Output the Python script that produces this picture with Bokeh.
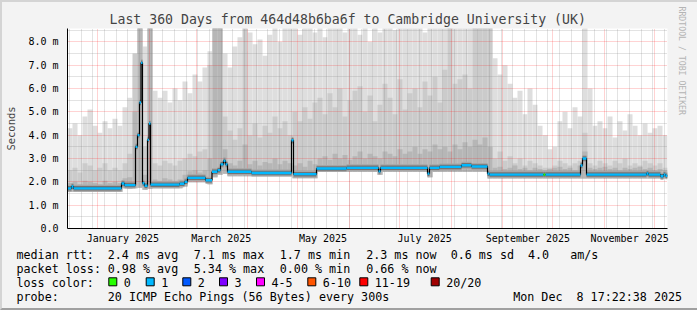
from datetime import datetime, timedelta
from bokeh.plotting import figure
from bokeh.models import Range1d, FixedTicker, Title
from bokeh.layouts import column
from bokeh.embed import file_html
from bokeh.resources import INLINE
from bokeh.core.properties import value

# ---------------- data ----------------
END_TIME = datetime(2025, 12, 8, 17, 22, 38)
SPAN_DAYS = 360
START_TIME = END_TIME - timedelta(days=SPAN_DAYS)

BIN_DAYS = 3  # width of one smoke column (days)

# outer smoke (max ping) per 3-day column, ms
smoke_max = [4.3, 4.5, 4.0, 4.8, 5.1, 4.4, 4.1, 4.6, 4.3, 4.7, 4.4, 5.2, 5.6,
             7.0, 9.0, 7.8, 9.0,
             5.9, 5.6, 5.9, 5.4, 6.0, 5.5, 6.3, 5.8, 6.6, 6.3, 6.9, 7.6,
             9.0, 9.0, 7.5, 6.9, 7.8, 8.2, 7.6, 8.4, 7.9, 8.1, 7.4, 8.3, 9.0, 8.0, 9.0,
             8.6, 9.0, 8.3, 8.6, 9.0, 8.4, 9.0, 8.2, 9.0, 8.7, 9.0, 8.4, 9.0, 9.0, 8.3,
             9.0, 8.0, 9.0, 8.4, 9.0, 9.0, 8.5, 9.0, 9.0, 8.7, 9.0, 9.0, 8.4, 9.0, 9.0,
             9.0, 8.6, 9.0, 9.0, 9.0, 8.8, 9.0, 9.0, 9.0, 9.0, 9.0,
             7.3, 6.6, 7.0, 6.2, 5.6, 5.9, 4.9, 6.0, 5.3, 4.4, 4.0, 3.4, 3.5, 4.6, 5.0,
             4.3, 5.2, 4.8, 9.0, 6.0, 4.4, 4.6, 4.3, 4.8, 3.9, 4.6, 4.2, 4.9, 4.4, 4.0,
             4.5, 4.1, 4.3, 4.4, 4.0]

# middle smoke band top per column, ms
smoke_mid = [2.5, 2.6, 2.4, 2.8, 2.7, 2.5, 2.6, 2.8, 2.5, 2.6, 2.5,
             2.8, 3.2,
             7.5, 9.0, 3.5, 9.0,
             2.8, 2.7, 2.9, 2.8, 2.7, 2.9, 3.0, 3.2, 3.1, 3.3, 3.4,
             7.0, 9.0, 9.0, 4.8,
             4.2, 3.8, 4.3, 9.0, 4.0, 4.5, 3.9, 4.4, 4.1, 4.8, 4.3, 4.6, 4.0,
             5.0, 4.6, 5.2, 4.7, 5.4,
             5.6, 4.9, 5.8, 5.2, 6.0, 4.8, 5.5, 5.9, 6.1, 5.0, 5.7, 4.6, 5.3, 6.2, 5.6,
             4.9, 6.4, 5.1, 5.8, 6.0, 5.2, 6.3, 5.7, 6.5, 5.4, 6.8, 9.0, 6.2, 6.4, 6.6,
             6.0, 9.0, 9.0, 9.0, 9.0,
             3.0, 3.3, 2.9, 3.1, 2.8, 3.0, 2.7, 2.9, 2.8, 2.7, 2.6, 2.6, 2.7, 2.9, 2.8,
             2.7, 2.8, 2.9, 4.1, 2.8, 2.7, 2.9, 2.8, 2.7, 2.9, 2.8, 3.0, 2.7, 2.8, 2.7,
             2.9, 2.8, 2.7, 2.8, 2.6]

# inner smoke band top per column, ms
smoke_inner = [1.95, 2.0, 1.9, 2.05, 2.0, 1.95, 1.9, 2.05, 1.95, 2.0, 1.95,
               2.15, 2.2,
               5.0, 9.0, 2.3, 9.0,
               2.1, 2.05, 2.15, 2.1, 2.05, 2.1,
               2.3,
               2.45, 2.5, 2.4, 2.5,
               3.0,
               9.0, 9.0,
               3.4,
               2.8, 2.7, 2.9, 3.6, 2.75, 2.9, 2.7, 2.85, 2.8, 3.0, 2.75, 2.9, 2.8,
               2.7, 2.8, 2.65, 2.9, 2.75,
               3.0, 3.1, 2.95, 3.2, 3.0, 3.15, 2.95, 3.1, 3.3, 3.0, 3.2, 3.1, 3.0, 3.3, 3.2,
               3.1, 3.4, 3.2, 3.3, 3.5, 3.2, 3.4, 3.3, 3.6, 3.4, 3.5, 3.3, 3.6, 3.4, 3.7,
               3.5, 3.8, 3.6, 3.9, 3.5,
               2.6, 2.65, 2.55, 2.6, 2.7, 2.55, 2.6, 2.5, 2.6, 2.55, 2.5, 2.55, 2.6, 2.65, 2.55,
               2.6, 2.5, 2.7, 3.3, 2.6, 2.55, 2.6, 2.65, 2.55, 2.6, 2.5, 2.6, 2.55, 2.6, 2.65,
               2.55, 2.6, 2.5, 2.55, 2.5]

# smoke bottom (min ping) per column, ms
smoke_min = ([1.57] * 11 + [1.72, 1.70, 1.72, 1.75, 1.66, 1.70] + [1.72] * 6 + [1.80]
             + [1.98] * 4 + [1.90, 2.20, 2.30, 2.35] + [2.24] * 13 + [2.15] * 5
             + [2.42] * 12 + [2.30] + [2.42] * 9 + [2.20] + [2.42] * 11 + [2.14] * 36)

# median rtt: step changes (day since start, ms, loss class index)
median_day = [0.0, 2.4, 3.6, 32.4, 34.2, 40.8, 42.0, 43.2, 44.1, 45.0, 46.2, 48.0, 48.9,
              49.8, 67.2, 70.2, 72.0, 82.8, 86.7, 90.0, 91.8, 93.6, 94.8, 96.0, 110.4,
              134.4, 135.6, 149.4, 167.4, 186.6, 187.8, 216.0, 217.2, 223.2, 236.4, 242.4,
              252.0, 253.2, 285.6, 286.8, 307.8, 309.0, 311.4, 347.4, 348.6, 355.8, 357.6,
              358.8]
median_ms = [1.72, 1.80, 1.72, 1.93, 1.86, 3.5, 4.0, 5.4, 7.1, 1.94, 1.83, 3.8, 4.5,
             1.88, 1.92, 2.0, 2.17, 2.07, 2.43, 2.5, 2.75, 2.9, 2.75, 2.43, 2.38,
             3.78, 2.33, 2.57, 2.6, 2.45, 2.6, 2.35, 2.6, 2.64, 2.71, 2.66,
             2.35, 2.31, 2.31, 2.31, 2.7, 3.0, 2.31, 2.36, 2.31, 2.24, 2.31,
             2.26]
median_loss = [1] * 38 + [0] + [1] * 9

loss_labels = ["0", "1", "2", "3", "4-5", "6-10", "11-19", "20/20"]
loss_colors = ["#26ff00", "#00b8ff", "#0059ff", "#7e00ff", "#ff00ff", "#ff5500", "#ff0000", "#a00000"]

y_ticks = [0, 1, 2, 3, 4, 5, 6, 7, 8]
y_tick_labels = ["0.0", "1.0 m", "2.0 m", "3.0 m", "4.0 m", "5.0 m", "6.0 m", "7.0 m", "8.0 m"]
y_minor = [0.5, 1.5, 2.5, 3.5, 4.5, 5.5, 6.5, 7.5, 8.5]
x_label_months = [(2025, 1), (2025, 3), (2025, 5), (2025, 7), (2025, 9), (2025, 11)]
x_labels = ["January 2025", "March 2025", "May 2025", "July 2025", "September 2025", "November 2025"]

title_text = "Last 360 Days from 464d48b6ba6f to Cambridge University (UK)"
stat_rows = [
    ["median rtt:", "2.4 ms avg", "7.1 ms max", "1.7 ms min", "2.3 ms now  0.6 ms sd  4.0   am/s"],
    ["packet loss:", "0.98 % avg", "5.34 % max", "0.00 % min", "0.66 % now"],
]
probe_text = ["probe:", "20 ICMP Echo Pings (56 Bytes) every 300s", "Mon Dec  8 17:22:38 2025"]

# ---------------- helpers ----------------
def day_of(dt):
    return (dt - START_TIME).total_seconds() / 86400.0

def keep_spaces(s):
    return s.replace(" ", "\u00a0")

month_starts = [day_of(datetime(2025, m, 1)) for m in range(1, 13)]
sundays = []
d = datetime(2024, 12, 15)
while d < END_TIME:
    sundays.append(day_of(d))
    d += timedelta(days=7)
x_label_pos = [day_of(datetime(y, m, 1) + timedelta(days=15)) for (y, m) in x_label_months]

BG = "#f3f3f3"
MONO = "DejaVu Sans Mono"
Y_TOP = 200 / 23.333

# ---------------- main chart ----------------
p = figure(frame_width=600, frame_height=200,
           x_range=Range1d(0, SPAN_DAYS), y_range=Range1d(0, Y_TOP),
           output_backend="svg", toolbar_location=None,
           min_border_left=64, min_border_right=29, min_border_top=26, min_border_bottom=18,
           background_fill_color="white", border_fill_color=BG, outline_line_color=None)
p.frame_align = False

p.title.text = title_text
p.title.text_font = MONO
p.title.text_font_size = "13.2px"
p.title.text_font_style = "normal"
p.title.align = "left"
p.title.offset = 42
p.title.standoff = 4

p.add_layout(Title(text="RRDTOOL / TOBI OETIKER", text_font=MONO, text_font_size="8.2px",
                   text_font_style="normal", text_color="#b4b4b4", align="left",
                   offset=-22, standoff=19), "right")

bin_left = [i * BIN_DAYS for i in range(len(smoke_max))]
bin_right = [b + BIN_DAYS for b in bin_left]
p.quad(left=bin_left, right=bin_right, bottom=smoke_min, top=smoke_max,
       fill_color="#dedede", line_color=None, level="image")
p.quad(left=bin_left, right=bin_right, bottom=smoke_min, top=smoke_mid,
       fill_color="#cbcbcb", line_color=None, level="image")
p.quad(left=bin_left, right=bin_right, bottom=smoke_min, top=smoke_inner,
       fill_color="#b6b6b6", line_color=None, level="image")

seg_x1 = median_day[1:] + [SPAN_DAYS]
# dark smoke hugging the median
p.segment(x0=median_day, y0=median_ms, x1=seg_x1, y1=median_ms,
          line_color="#a6a6a6", line_width=7, line_cap="butt")
p.segment(x0=median_day, y0=median_ms, x1=seg_x1, y1=median_ms,
          line_color="#737373", line_width=4.5, line_cap="butt")
step_x = median_day + [SPAN_DAYS]
step_y = median_ms + [median_ms[-1]]
p.step(step_x, step_y, mode="after", line_width=1.2, line_color="#000000")
p.segment(x0=median_day, y0=median_ms, x1=seg_x1, y1=median_ms,
          line_color=[loss_colors[k] for k in median_loss], line_width=2.4, line_cap="butt")

# axes
p.yaxis.ticker = FixedTicker(ticks=y_ticks, minor_ticks=y_minor)
p.yaxis.major_label_overrides = dict(zip(y_ticks, y_tick_labels))
p.xaxis.ticker = FixedTicker(ticks=x_label_pos)
p.xaxis.major_label_overrides = dict(zip(x_label_pos, x_labels))
for ax in (p.xaxis[0], p.yaxis[0]):
    ax.axis_line_color = "black"
    ax.major_tick_line_color = None
    ax.minor_tick_line_color = None
    ax.major_tick_out = 0
    ax.major_tick_in = 0
    ax.major_label_text_font = MONO
    ax.major_label_text_font_size = "10px"
    ax.major_label_text_color = "black"
p.xaxis.major_label_standoff = 4
p.yaxis.major_label_standoff = 5
p.yaxis.axis_label = "Seconds"
p.yaxis.axis_label_text_font = MONO
p.yaxis.axis_label_text_font_size = "10.5px"
p.yaxis.axis_label_text_font_style = "normal"
p.yaxis.axis_label_standoff = 8

# grids
p.xgrid.ticker = FixedTicker(ticks=month_starts, minor_ticks=sundays)
p.ygrid.ticker = FixedTicker(ticks=y_ticks, minor_ticks=y_minor)
for g in (p.xgrid[0], p.ygrid[0]):
    g.grid_line_color = "#ff0000"
    g.grid_line_alpha = 0.35
    g.grid_line_dash = "1 1"
    g.minor_grid_line_color = "#808080"
    g.minor_grid_line_alpha = 0.45
    g.minor_grid_line_dash = "1 1"

# ---------------- legend / stats block ----------------
q = figure(width=693, height=62, x_range=Range1d(2, 695), y_range=Range1d(308, 246),
           output_backend="svg", toolbar_location=None, min_border=0,
           x_axis_location=None, y_axis_location=None,
           background_fill_color=BG, border_fill_color=BG, outline_line_color=None)
q.frame_align = False
q.grid.visible = False

col_x = [16, 107.3, 193.3, 279.3, 365.7]
row_y = [254.3, 268.3, 282.3, 296.2]
FS = "11.7px"
for r, row in enumerate(stat_rows):
    q.text(x=col_x[:len(row)], y=[row_y[r]] * len(row), text=[keep_spaces(s) for s in row],
           text_font=value(MONO), text_font_size=FS, text_baseline="middle", text_color="black")

q.text(x=[16], y=[row_y[2]], text=[keep_spaces("loss color:")], text_font=value(MONO),
       text_font_size=FS, text_baseline="middle", text_color="black")
sw_left = [108.3, 145.7, 182.3, 219.0, 256.0, 307.3, 359.3, 430.7]
q.rect(x=[s + 4 for s in sw_left], y=[row_y[2] - 1] * len(sw_left), width=8, height=8,
       fill_color=loss_colors, line_color="black", line_width=1)
q.text(x=[s + 15 for s in sw_left], y=[row_y[2]] * len(sw_left), text=loss_labels,
       text_font=value(MONO), text_font_size=FS, text_baseline="middle", text_color="black")

q.text(x=[16, 107.3, 512.7], y=[row_y[3]] * 3, text=[keep_spaces(s) for s in probe_text],
       text_font=value(MONO), text_font_size=FS, text_baseline="middle", text_color="black")

layout = column(p, q, spacing=0,
                styles={"border-style": "solid", "border-width": "2px",
                        "border-color": "#d4d4d4 #a0a0a0 #a0a0a0 #d4d4d4",
                        "background-color": BG})

open("out.html", "w").write(file_html(layout, INLINE))
